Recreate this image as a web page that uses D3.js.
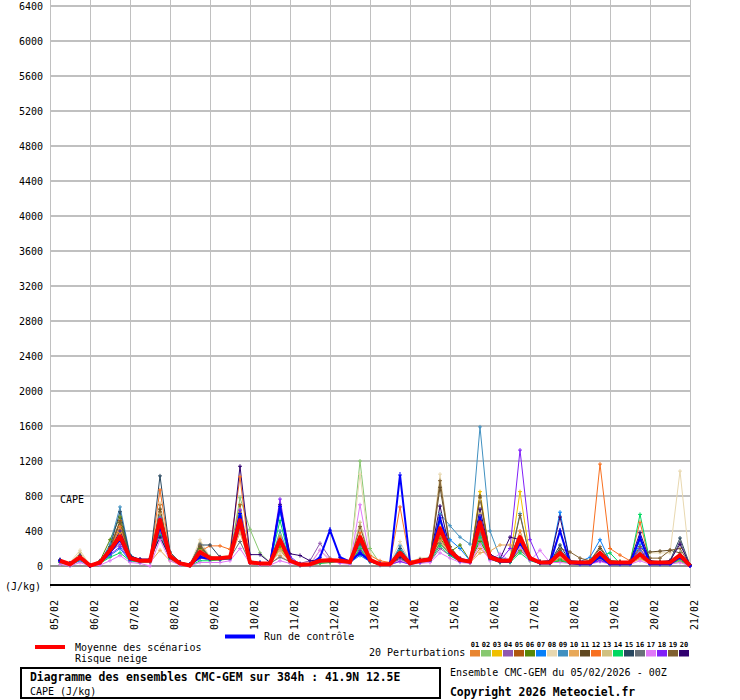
<!DOCTYPE html>
<html><head><meta charset="utf-8">
<script src="https://cdn.jsdelivr.net/npm/d3@7"></script>
<style>
body{margin:0;background:#fff}
svg{display:block}
text{font-family:"DejaVu Sans Mono","Liberation Mono",monospace;fill:#000}
</style>
</head><body>
<svg id="c" width="740" height="700"></svg>
<script>
// ---- data ----
const hours=[6,12,18,24,30,36,42,48,54,60,66,72,78,84,90,96,102,108,114,120,126,132,138,144,150,156,162,168,174,180,186,192,198,204,210,216,222,228,234,240,246,252,258,264,270,276,282,288,294,300,306,312,318,324,330,336,342,348,354,360,366,372,378,384];
const dayLabels=["05/02","06/02","07/02","08/02","09/02","10/02","11/02","12/02","13/02","14/02","15/02","16/02","17/02","18/02","19/02","20/02","21/02"];
const dayHours=[0,24,48,72,96,120,144,168,192,216,240,264,288,312,336,360,384];
const yTicks=[0,400,800,1200,1600,2000,2400,2800,3200,3600,4000,4400,4800,5200,5600,6000,6400];
const pertNames=["01","02","03","04","05","06","07","08","09","10","11","12","13","14","15","16","17","18","19","20"];
const pertColors=["#e88530","#88c870","#f0c000","#9058b0","#b05810","#588808","#0880f8","#e8d8b0","#4090c0","#e8a858","#604820","#f87020","#d0c080","#00d860","#284860","#687078","#e078f8","#8020f8","#806030","#300070"];

const p01=[50,20,90,0, 30,200,420,80, 60,50,600,100, 20,0,120,80, 80,90,600,30, 20,30,250,50, 10,20,40,60, 50,40,250,60, 20,10,100,20, 50,70,300,150, 60,40,200,90, 50,60,400,80, 30,40,100,30, 40,30,80,30, 30,40,200,30, 30,40,60,0];
const p02=[60,10,110,0, 40,150,300,70, 50,60,450,90, 30,0,180,100, 100,120,780,420, 150,40,350,60, 10,10,50,60, 60,50,1200,200, 30,20,200,40, 80,90,250,140, 60,40,300,80, 50,50,200,70, 40,30,60,30, 30,40,70,40, 40,30,150,40, 30,30,50,0];
const p03=[40,20,80,10, 30,170,380,100, 70,60,520,120, 30,10,150,90, 90,100,540,40, 30,20,200,50, 20,20,60,70, 60,40,200,60, 20,20,120,30, 60,80,450,180, 80,60,850,120, 70,80,850,100, 50,60,400,50, 40,50,100,40, 50,40,120,40, 40,50,80,10];
const p04=[70,30,100,0, 50,160,250,80, 50,50,380,100, 40,10,90,70, 80,90,420,50, 30,40,300,80, 30,60,260,90, 50,30,150,50, 10,10,80,20, 40,50,200,120, 50,40,350,80, 40,50,300,90, 40,30,120,40, 30,30,60,30, 30,40,100,30, 40,30,70,0];
const p05=[60,20,120,0, 40,210,520,110, 70,70,700,140, 40,10,160,100, 100,110,700,40, 30,30,180,50, 10,20,50,60, 70,50,300,80, 20,30,150,30, 70,80,380,160, 70,50,400,110, 60,60,250,90, 40,50,80,40, 50,40,120,50, 40,50,90,40, 50,40,90,10];
const p06=[50,20,90,10, 60,300,560,120, 50,60,480,100, 30,10,200,110, 90,100,450,40, 30,30,220,60, 20,20,40,50, 50,40,180,60, 20,20,100,20, 60,70,320,160, 240,60,280,90, 50,50,180,70, 30,40,60,30, 40,30,90,40, 30,40,130,40, 30,40,60,0];
const p07=[40,10,60,0, 30,120,200,60, 60,60,420,100, 20,0,130,80, 70,90,560,60, 40,40,620,90, 10,10,50,60, 50,40,120,50, 20,30,180,30, 70,100,500,300, 200,60,500,100, 60,70,250,80, 50,60,615,60, 50,100,300,60, 40,50,250,50, 40,30,120,10];
const p08=[70,40,180,10, 50,190,400,100, 70,70,720,130, 50,20,300,100, 110,120,650,60, 40,30,150,50, 20,30,180,80, 80,60,1050,150, 40,40,280,50, 90,100,1050,200, 80,60,760,120, 70,60,250,100, 50,50,150,60, 50,40,100,40, 50,40,100,150, 150,150,1085,10];
const p09=[50,20,70,0, 40,250,675,130, 60,60,560,110, 30,10,140,90, 90,100,480,40, 30,30,400,70, 10,20,40,60, 60,50,220,70, 20,20,230,40, 60,100,600,460, 330,250,1590,400, 100,70,600,90, 40,50,200,40, 40,40,120,40, 40,50,180,40, 40,40,100,0];
const p10=[50,20,80,0, 30,140,350,70, 50,40,180,60, 20,0,100,70, 70,80,380,30, 20,20,120,40, 10,10,30,40, 40,30,260,50, 10,10,60,20, 40,60,280,130, 60,40,150,170, 240,240,220,70, 30,30,100,30, 30,30,80,30, 30,30,80,30, 30,30,60,0];
const p11=[60,30,110,10, 50,200,500,100, 60,60,650,120, 40,10,220,100, 90,100,500,50, 30,40,280,70, 20,20,60,70, 60,50,300,70, 20,20,130,30, 70,90,900,220, 80,60,800,120, 60,60,300,90, 50,50,180,50, 50,60,200,60, 50,50,120,160, 170,180,150,10];
const p12=[60,20,100,0, 40,190,450,100, 60,70,870,150, 40,10,170,230, 230,190,1020,60, 30,30,330,70, 20,30,70,80, 60,50,380,120, 60,40,675,60, 70,80,350,160, 70,50,420,110, 60,60,280,90, 40,40,90,40, 40,60,1165,200, 125,60,500,50, 40,40,80,0];
const p13=[60,30,150,10, 40,160,300,80, 60,60,600,110, 40,20,260,100, 90,100,620,40, 30,30,180,60, 20,20,80,70, 60,50,500,80, 20,20,120,30, 60,80,520,180, 80,50,600,110, 60,60,350,90, 40,40,100,40, 40,40,90,40, 40,40,110,40, 40,40,110,10];
const p14=[40,10,70,0, 30,100,150,60, 40,50,350,80, 20,0,60,60, 70,80,580,30, 20,30,520,60, 10,10,30,40, 50,30,200,50, 10,10,170,20, 40,60,230,120, 50,40,330,80, 40,40,150,60, 30,30,70,30, 30,30,110,150, 30,30,590,50, 30,30,70,0];
const p15=[70,30,120,10, 50,220,620,120, 70,70,1030,160, 40,20,240,240, 100,110,520,50, 30,40,300,70, 20,20,60,60, 60,50,250,70, 20,20,200,30, 60,70,420,170, 70,50,480,110, 60,60,260,90, 40,40,240,50, 40,50,150,40, 40,50,300,60, 50,60,320,10];
const p16=[60,20,110,0, 40,150,300,80, 60,60,500,100, 30,10,250,90, 80,90,280,40, 30,30,100,50, 10,20,50,60, 50,40,180,60, 20,20,90,20, 50,70,260,140, 60,50,370,90, 50,60,320,80, 40,40,160,40, 40,40,130,40, 40,40,140,40, 40,50,280,10];
const p17=[20,0,40,0, 10,60,120,40, 30,0,300,60, 10,0,40,40, 40,60,200,30, 10,10,60,30, 10,10,180,60, 30,20,700,90, 10,10,60,20, 30,40,150,90, 40,30,250,60, 140,60,200,60, 180,40,40,30, 20,20,50,20, 20,20,60,20, 20,20,40,0];
const p18=[50,20,80,0, 30,130,220,70, 50,50,540,100, 30,10,120,80, 80,90,640,40, 30,40,765,110, 20,20,60,60, 50,40,160,60, 20,20,50,20, 50,70,400,160, 70,50,520,120, 60,200,1325,300, 40,30,130,40, 40,30,60,30, 30,40,200,40, 30,40,90,0];
const p19=[70,30,120,10, 50,200,500,100, 60,60,620,110, 40,10,230,100, 90,100,460,50, 30,30,260,60, 20,20,60,70, 60,50,450,90, 20,30,110,30, 70,90,975,220, 80,60,780,130, 80,70,580,100, 50,50,200,160, 90,60,220,60, 50,50,220,90, 90,180,200,10];
const p20=[60,20,90,0, 50,180,400,110, 80,80,330,100, 40,20,110,80, 100,110,1140,130, 130,40,700,140, 120,60,70,60, 60,50,280,70, 20,20,100,30, 70,90,685,180, 90,60,650,130, 80,330,300,100, 50,60,560,60, 50,40,110,40, 40,50,380,60, 40,60,250,10];
const control=[60,20,100,0, 40,150,300,80, 60,60,450,100, 30,10,100,80, 80,90,600,40, 30,30,680,60, 10,20,100,410, 100,50,150,60, 20,20,1040,40, 50,70,550,150, 60,50,560,90, 50,50,260,80, 30,30,400,30, 20,20,100,20, 20,20,330,20, 20,20,100,0];
const mean=[60,20,100,5, 40,180,340,90, 60,60,525,110, 30,5,160,90, 90,100,525,40, 30,30,300,60, 15,20,60,65, 60,45,330,70, 20,20,150,30, 60,75,430,170, 70,50,500,100, 60,60,330,90, 40,40,150,40, 40,40,150,40, 40,40,135,40, 40,40,125,5];
const perts=[p01,p02,p03,p04,p05,p06,p07,p08,p09,p10,p11,p12,p13,p14,p15,p16,p17,p18,p19,p20];

// ---- chart ----
const svg=d3.select("#c");
const x=d3.scaleLinear().domain([0,384]).range([50,690]);
const y=d3.scaleLinear().domain([0,6400]).range([566,6]);
const grid="#c0c0c0";

// horizontal gridlines
svg.append("g").selectAll("line").data(yTicks.filter(t=>t>0)).join("line")
  .attr("x1",x(0)).attr("x2",x(384)).attr("y1",d=>y(d)).attr("y2",d=>y(d))
  .attr("stroke",grid).attr("stroke-width",2).attr("shape-rendering","crispEdges");
// vertical gridlines
svg.append("g").selectAll("line").data(dayHours).join("line")
  .attr("x1",d=>Math.round(x(d))+0.5).attr("x2",d=>Math.round(x(d))+0.5).attr("y1",0).attr("y2",588)
  .attr("stroke",grid).attr("stroke-width",1).attr("shape-rendering","crispEdges");
// zero line
svg.append("line").attr("x1",x(0)).attr("x2",x(384)).attr("y1",y(0)-0.5).attr("y2",y(0)-0.5)
  .attr("stroke","#909090").attr("stroke-width",2).attr("shape-rendering","crispEdges");
// black baseline
svg.append("line").attr("x1",x(0)).attr("x2",x(384)).attr("y1",585).attr("y2",585)
  .attr("stroke","#000").attr("stroke-width",1.5).attr("shape-rendering","crispEdges");

// y axis labels
svg.append("g").selectAll("text").data(yTicks).join("text")
  .attr("x",43).attr("y",d=>y(d)+4).attr("text-anchor","end").attr("font-size",10).text(d=>d);
// x axis labels
svg.append("g").selectAll("text").data(dayLabels).join("text")
  .attr("transform",(d,i)=>`translate(${x(dayHours[i])+7.5},600) rotate(-90)`)
  .attr("text-anchor","end").attr("font-size",10).text(d=>d);

svg.append("text").attr("x",5).attr("y",590).attr("font-size",10).text("(J/kg)");
svg.append("text").attr("x",60).attr("y",503).attr("font-size",10).text("CAPE");

// series
const line=d3.line().x((d,i)=>x(hours[i])).y(d=>y(d));
const gP=svg.append("g");
perts.forEach((vals,k)=>{
  gP.append("path").datum(vals).attr("d",line).attr("fill","none")
    .attr("stroke",pertColors[k]).attr("stroke-width",1);
});
perts.forEach((vals,k)=>{
  gP.append("g").selectAll("path").data(vals).join("path")
    .attr("d",(d,i)=>{const px=x(hours[i]),py=y(d);return `M${px-2},${py}H${px+2}M${px},${py-2}V${py+2}`;})
    .attr("stroke",pertColors[k]).attr("stroke-width",1).attr("fill","none");
});
svg.append("path").datum(control).attr("d",line).attr("fill","none")
  .attr("stroke","#0000ff").attr("stroke-width",2);
svg.append("g").selectAll("path").data(control).join("path")
  .attr("d",(d,i)=>{const px=x(hours[i]),py=y(d);return `M${px-2},${py}H${px+2}M${px},${py-3}V${py+2}`;})
  .attr("stroke","#0000ff").attr("stroke-width",1);
svg.append("path").datum(mean).attr("d",line).attr("fill","none")
  .attr("stroke","#ff0000").attr("stroke-width",4).attr("stroke-linejoin","round");

// legend
svg.append("line").attr("x1",35).attr("x2",65).attr("y1",647).attr("y2",647).attr("stroke","#ff0000").attr("stroke-width",4);
svg.append("text").attr("x",75).attr("y",651).attr("font-size",10).text("Moyenne des scénarios");
svg.append("text").attr("x",75).attr("y",662).attr("font-size",10).text("Risque neige");
svg.append("line").attr("x1",225).attr("x2",255).attr("y1",636.5).attr("y2",636.5).attr("stroke","#0000ff").attr("stroke-width",4);
svg.append("text").attr("x",264).attr("y",640).attr("font-size",10).text("Run de contrôle");
svg.append("text").attr("x",369).attr("y",656).attr("font-size",10).text("20 Perturbations");
const gL=svg.append("g");
gL.selectAll("rect").data(pertColors).join("rect")
  .attr("x",(d,i)=>470+11*i).attr("y",650).attr("width",10).attr("height",6.5).attr("fill",d=>d);
gL.selectAll("text").data(pertNames).join("text")
  .attr("x",(d,i)=>475+11*i).attr("y",647).attr("text-anchor","middle")
  .attr("font-size",7).attr("font-weight","bold").text(d=>d);

// title box
svg.append("rect").attr("x",21).attr("y",668).attr("width",419).attr("height",30)
  .attr("fill","none").attr("stroke","#000").attr("stroke-width",2);
svg.append("text").attr("x",30).attr("y",681).attr("font-size",11.4).attr("font-weight","bold")
  .text("Diagramme des ensembles CMC-GEM sur 384h : 41.9N 12.5E");
svg.append("text").attr("x",30).attr("y",695).attr("font-size",10).text("CAPE (J/kg)");
svg.append("text").attr("x",450).attr("y",676).attr("font-size",10).text("Ensemble CMC-GEM du 05/02/2026 - 00Z");
svg.append("text").attr("x",450).attr("y",696).attr("font-size",11.4).attr("font-weight","bold").text("Copyright 2026 Meteociel.fr");
</script>
</body></html>
